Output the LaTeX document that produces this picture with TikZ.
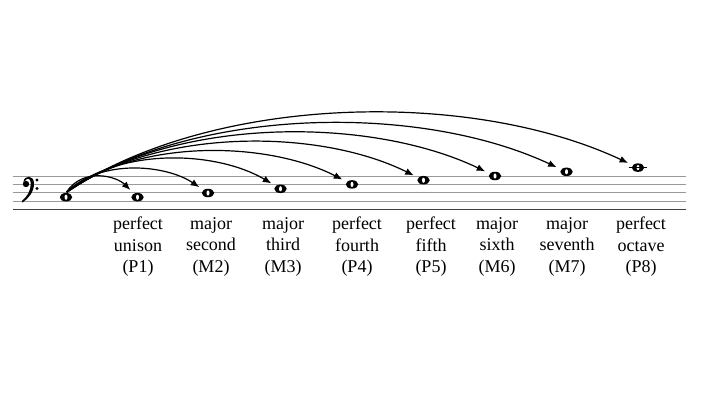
\documentclass[tikz,border=0pt]{standalone}
\usepackage{fontspec}
\setmainfont{Liberation Serif}
\usetikzlibrary{positioning, shapes.geometric, arrows.meta}
\tikzstyle{Leap} = [
%arc from the first note to the others
line width=1.2pt,
-{Latex[length=8.5pt, width=7pt]},
shorten <= 1pt, shorten >= 5pt
]

\begin{document}
\begin{tikzpicture}[x=1pt, y=-1pt,
                    staffline/.style = {line width=0.9pt, black!40},
                    whole/.style = {ellipse, fill=black, inner sep=0pt, minimum width=12.5pt, minimum height=8.5pt,
                                    path picture={\fill[white, rotate=-35] (path picture bounding box.center) ellipse [x radius=1.5pt, y radius=2.6pt];}},
                    ivname/.style = {align=center, anchor=north, inner sep=0pt, font=\fontsize{18}{21.5}\selectfont},
                   ]
  \useasboundingbox (0,0) rectangle (710,400);

  % staff
  \foreach \ly in {176,184.4,192.8,201.2}
    \draw[staffline] (13,\ly) -- (686,\ly);
  \draw[staffline, black!75] (13,209.6) -- (686,209.6);

  % bass clef
  \fill (26,184) circle [radius=3.2pt];
  \fill (23.5,182) .. controls (24,175) and (34,174.5) .. (34,183.5)
        .. controls (34,192) and (28.5,198.5) .. (22.5,202.5) -- (22,201)
        .. controls (27,196.5) and (30.8,191) .. (30.8,183.5)
        .. controls (30.8,178) and (27,177.5) .. (25.5,180.5) -- cycle;
  \fill (37,180) circle [radius=1.6pt];
  \fill (37,188.4) circle [radius=1.6pt];

  % notes
  \node[whole] (note0) at (66,197.2) {};
  \foreach \n/\nx/\ny in {1/137.5/197.2, 2/208/193, 3/280.5/188.8, 4/352/184.4,
                          5/423.5/180.2, 6/495/176, 7/566.5/171.8, 8/638/167.6}
    \node[whole] (note\n) at (\nx,\ny) {};
  \draw[line width=0.9pt] ([xshift=-3pt]note8.west) -- ([xshift=3pt]note8.east);

  % arcs
  \foreach \n/\ax/\ay/\bx/\by in {1/17.5/25.7/21/21, 2/35/34.5/42/28.2, 3/53/46/64/38,
                                  4/71/54/86/44, 5/89/64/107/53, 6/107/75/128/61,
                                  7/125/85/150/70, 8/143/97/171/80}
    \draw[Leap] (note0.north) .. controls +(\ax,-\ay) and +(-\bx,-\by) .. (note\n);

  % interval names
  \foreach \n/\lx/\ta/\tb/\tc in {1/138/perfect/unison/P1, 2/211/major/second/M2,
                                  3/283/major/third/M3, 4/357/perfect/fourth/P4,
                                  5/431/perfect/fifth/P5, 6/497/major/sixth/M6,
                                  7/567/major/seventh/M7, 8/641/perfect/octave/P8}
    \node[ivname] (name\n) at (\lx,217) {\ta\\\tb\\(\tc)};
\end{tikzpicture}
\end{document}
